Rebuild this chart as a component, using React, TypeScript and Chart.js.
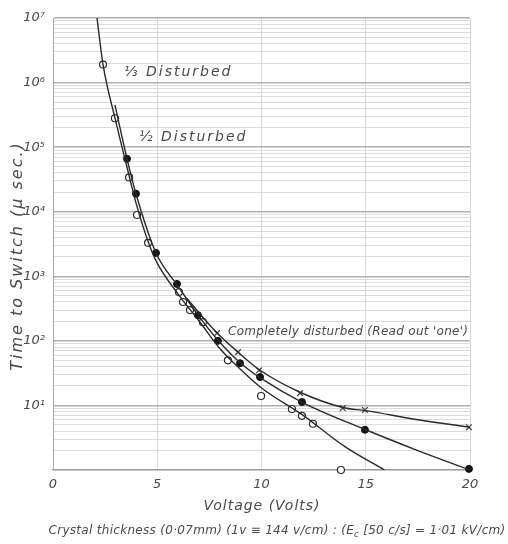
import { useEffect, useRef } from "react";
import { Chart, registerables } from "chart.js";

Chart.register(...registerables);

// ---- Axis ticks ----
const voltTicks = [0, 5, 10, 15, 20];
const superscripts = ["⁰", "¹", "²", "³", "⁴", "⁵", "⁶", "⁷"];

// ---- ⅓ Disturbed (open circles) ----
const thirdCurveV = [2.11, 2.4, 3.0, 3.6, 4.0, 4.6, 5.0, 6.0, 7.0, 8.0, 9.0, 10, 12, 14, 15.9];
const thirdCurveT = [1e7, 1.9e6, 2.6e5, 4.2e4, 1.3e4, 3.2e3, 1.6e3, 530, 205, 76, 36, 18.6, 7, 2.3, 1.0];
const thirdPointV = [2.4, 2.97, 3.65, 4.03, 4.56, 6.04, 6.24, 6.57, 7.19, 8.39, 9.98, 11.46, 11.94, 12.47, 13.81];
const thirdPointT = [1.9e6, 2.8e5, 3.4e4, 8.9e3, 3.3e3, 570, 400, 300, 195, 50, 14, 8.8, 6.9, 5.2, 1.0];

// ---- ½ Disturbed (filled circles) ----
const halfCurveV = [2.97, 3.55, 4.0, 4.94, 6.0, 7.0, 8.0, 9.0, 10, 12, 15, 17.5, 20];
const halfCurveT = [4.5e5, 6.6e4, 1.8e4, 2.3e3, 700, 240, 95, 45, 26, 11, 4.2, 2.0, 1.0];
const halfPointV = [3.55, 3.98, 4.94, 5.95, 6.95, 7.91, 8.97, 9.93, 11.94, 14.96, 19.95];
const halfPointT = [6.6e4, 1.9e4, 2.3e3, 760, 250, 100, 45, 27.5, 11.3, 4.2, 1.04];

// ---- Completely disturbed (crosses) ----
const fullCurveV = [6.4, 7.87, 8.87, 9.88, 11.85, 13.9, 15, 17.5, 20];
const fullCurveT = [460, 132, 67, 36, 16, 9.3, 8.3, 6.0, 4.6];
const fullPointV = [7.87, 8.87, 9.88, 11.85, 13.9, 14.96, 19.95];
const fullPointT = [132, 67, 35, 15.5, 9.1, 8.5, 4.6];

const yTickValues: number[] = [];
for (let e = 0; e < 7; e++) {
  for (let m = 1; m < 10; m++) yTickValues.push(m * Math.pow(10, e));
}
yTickValues.push(1e7);

const pts = (xs: number[], ys: number[]) => xs.map((x, i) => ({ x, y: ys[i] }));
const isDecade = (v: number) => {
  const e = Math.log10(v);
  return Math.abs(e - Math.round(e)) < 1e-6;
};

const INK = "#2a2a2a";
const TEXT = "#4a4a4a";
const FONT = "DejaVu Sans";

const textPlugin = {
  id: "texts",
  afterDraw(chart: any) {
    const ctx = chart.ctx as any;
    ctx.save();
    ctx.fillStyle = TEXT;
    ctx.textBaseline = "middle";
    ctx.textAlign = "left";
    // annotations
    ctx.font = `italic 14px "${FONT}"`;
    ctx.letterSpacing = "2px";
    ctx.fillText("⅓ Disturbed", 124, 72);
    ctx.fillText("½ Disturbed", 139, 137);
    ctx.font = `italic 12px "${FONT}"`;
    ctx.letterSpacing = "0.3px";
    ctx.fillText("Completely disturbed (Read out 'one')", 228, 332);
    // y title
    ctx.save();
    ctx.translate(18, 256);
    ctx.rotate(-Math.PI / 2);
    ctx.textAlign = "center";
    ctx.font = `italic 16px "${FONT}"`;
    ctx.letterSpacing = "2px";
    ctx.fillText("Time to Switch (μ sec.)", 0, 0);
    ctx.restore();
    // x title
    ctx.textAlign = "center";
    ctx.font = `italic 14px "${FONT}"`;
    ctx.letterSpacing = "1px";
    ctx.fillText("Voltage (Volts)", 262, 506);
    // subtitle
    ctx.textAlign = "left";
    ctx.letterSpacing = "0.3px";
    const main = `italic 12px "${FONT}"`;
    const small = `italic 8.5px "${FONT}"`;
    const p1 = "Crystal thickness (0·07mm) (1v ≡ 144 v/cm) : (E";
    const p2 = "c";
    const p3 = " [50 c/s] = 1·01 kV/cm)";
    ctx.font = main;
    const w1 = ctx.measureText(p1).width;
    const w3 = ctx.measureText(p3).width;
    ctx.font = small;
    const w2 = ctx.measureText(p2).width;
    const total = w1 + w2 + w3;
    let x = 277 - total / 2;
    const y = 531;
    ctx.font = main;
    ctx.fillText(p1, x, y);
    x += w1;
    ctx.font = small;
    ctx.fillText(p2, x, y + 4);
    x += w2;
    ctx.font = main;
    ctx.fillText(p3, x, y);
    ctx.restore();
  },
};

export default function App() {
  const ref = useRef<HTMLCanvasElement>(null);
  useEffect(() => {
    if (!ref.current) return;
    const lineDs = (data: any[]) => ({
      data,
      showLine: true,
      borderColor: INK,
      borderWidth: 1.4,
      pointRadius: 0,
      cubicInterpolationMode: "monotone",
      fill: false,
    });
    const chart = new Chart(ref.current, {
      type: "scatter",
      data: {
        datasets: [
          lineDs(pts(thirdCurveV, thirdCurveT)),
          lineDs(pts(halfCurveV, halfCurveT)),
          lineDs(pts(fullCurveV, fullCurveT)),
          {
            data: pts(thirdPointV, thirdPointT),
            pointStyle: "circle",
            pointRadius: 3.5,
            pointBackgroundColor: "#ffffff",
            pointBorderColor: INK,
            pointBorderWidth: 1.2,
            clip: false,
          },
          {
            data: pts(halfPointV, halfPointT),
            pointStyle: "circle",
            pointRadius: 3.5,
            pointBackgroundColor: "#111111",
            pointBorderColor: "#111111",
            pointBorderWidth: 1,
            clip: false,
          },
          {
            data: pts(fullPointV, fullPointT),
            pointStyle: "crossRot",
            pointRadius: 4,
            pointBorderColor: "#444444",
            pointBorderWidth: 1.3,
            clip: false,
          },
        ] as any,
      },
      options: {
        responsive: false,
        animation: false,
        events: [],
        layout: { padding: { top: 18, right: 38, left: 0, bottom: 0 } },
        plugins: { legend: { display: false }, tooltip: { enabled: false } },
        scales: {
          x: {
            type: "linear",
            min: 0,
            max: 20,
            afterBuildTicks: (s: any) => {
              s.ticks = voltTicks.map((v) => ({ value: v }));
            },
            afterFit: (s: any) => {
              s.height = 74;
            },
            grid: { color: "#dadada", lineWidth: 1, drawTicks: false },
            border: { display: true, color: "#9a9a9a", width: 1.2 },
            ticks: {
              padding: 7,
              color: TEXT,
              font: { family: FONT, size: 13, style: "italic" },
              callback: (v: any) => String(v),
            },
          },
          y: {
            type: "logarithmic",
            min: 1,
            max: 1e7,
            afterBuildTicks: (s: any) => {
              s.ticks = yTickValues.map((v) => ({ value: v }));
            },
            afterFit: (s: any) => {
              s.width = 53;
            },
            grid: {
              drawTicks: false,
              color: (c: any) => (c.tick && isDecade(c.tick.value) ? "#b0b0b0" : "#dcdcdc"),
              lineWidth: (c: any) => (c.tick && isDecade(c.tick.value) ? 1.4 : 1),
            },
            border: { display: true, color: "#a8a8a8", width: 1 },
            ticks: {
              autoSkip: false,
              padding: 8,
              color: TEXT,
              font: { family: FONT, size: 13, style: "italic" },
              callback: (v: any) => {
                const val = Number(v);
                if (!isDecade(val)) return "";
                const e = Math.round(Math.log10(val));
                if (e === 0) return "";
                return "10" + superscripts[e];
              },
            },
          },
        },
      } as any,
      plugins: [textPlugin],
    });
    return () => chart.destroy();
  }, []);
  return (
    <div style={{ position: "absolute", left: 0, top: 0, width: 508, height: 544, background: "#fff" }}>
      <canvas ref={ref} width={508} height={544} style={{ display: "block", width: 508, height: 544 }} />
    </div>
  );
}
